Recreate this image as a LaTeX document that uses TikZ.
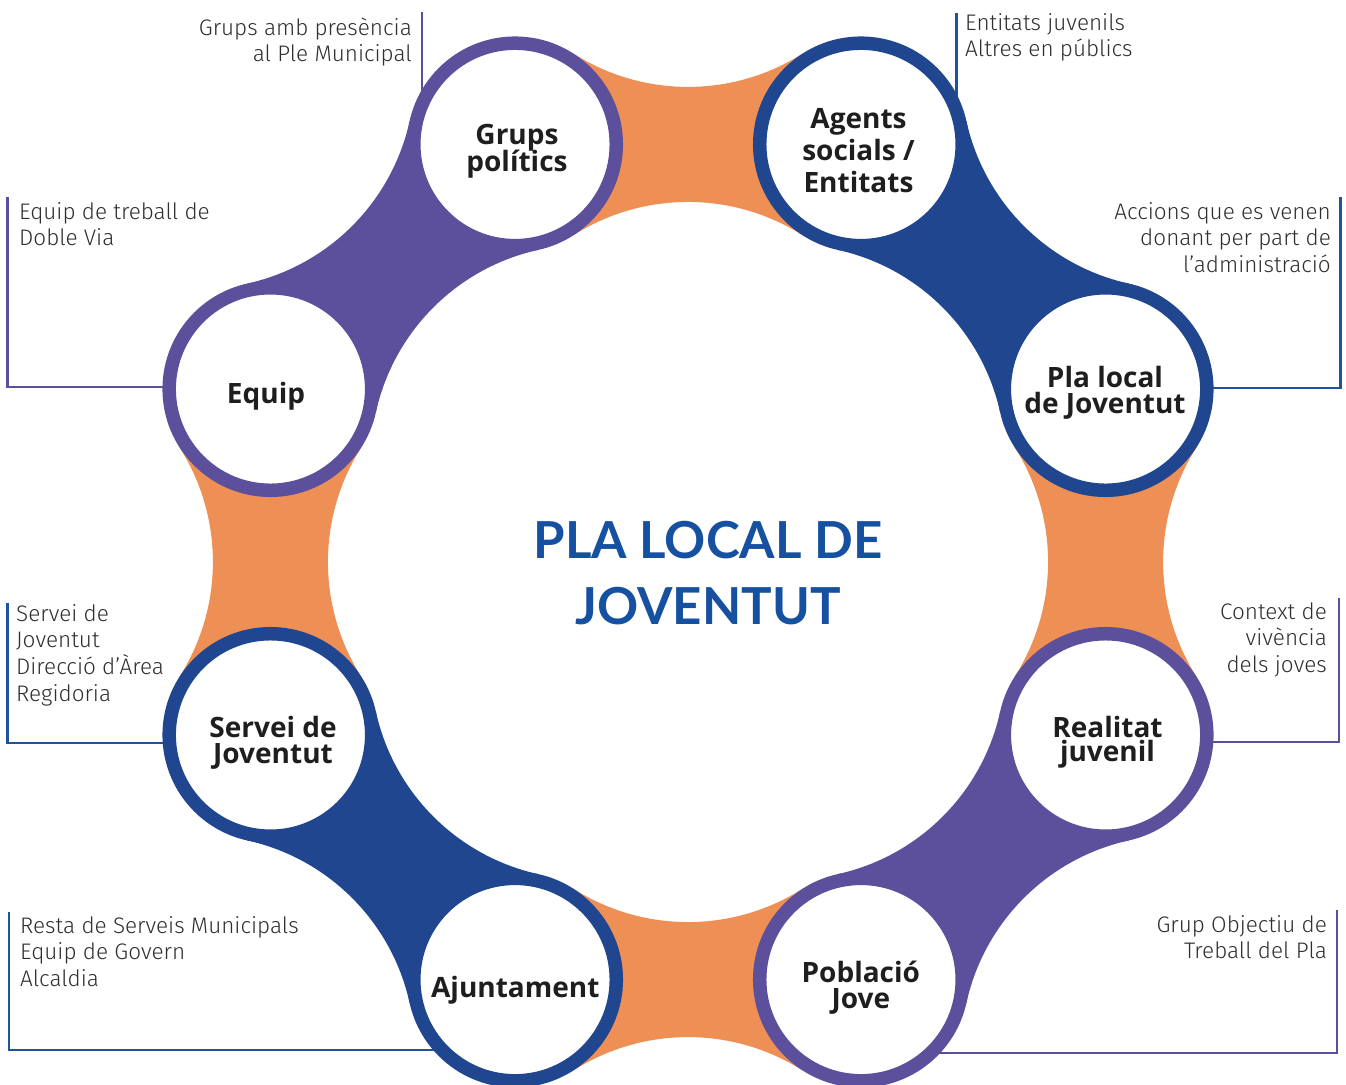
\documentclass[tikz,border=0pt]{standalone}
\usepackage{fontspec}
\usetikzlibrary{calc}
\IfFontExistsTF{Fira Sans Light}{\newfontfamily\bodyf{Fira Sans Light}}{\newfontfamily\bodyf{Fira Sans}}
\newfontfamily\labf{Open Sans}
\newfontfamily\titf{Lato}
\definecolor{orng}{HTML}{EE8F56}
\definecolor{purp}{HTML}{5C4F9C}
\definecolor{blu}{HTML}{20468F}
\definecolor{lblu}{HTML}{1F53A0}
\definecolor{titb}{HTML}{1650A0}
\definecolor{txt}{HTML}{2E2E2E}
\definecolor{labc}{HTML}{1E1E1E}
\newcommand\labfont{\labf\bfseries\fontsize{28}{26}\selectfont\lineskiplimit=-100pt}
\newcommand\bodyfont{\bodyf\fontsize{22.5}{26.7}\selectfont\lineskiplimit=-100pt}
\newcommand\titfont{\titf\bfseries\fontsize{51}{66}\selectfont\lineskiplimit=-100pt}
\newcommand\fstr[1]{\rule{0pt}{#1}}
\tikzset{
  ring/.style={circle, draw=#1, line width=13.5pt, fill=white, minimum size=202.5pt, inner sep=0pt},
  lab/.style={font=\labfont, text=labc, align=center, inner sep=0pt, anchor=north},
  body/.style={font=\bodyfont, text=txt, inner sep=0pt},
  lead/.style={line width=2.2pt, draw=#1},
  titl/.style={font=\titfont, text=titb, align=center, inner sep=0pt, anchor=north}
}
\begin{document}
\begin{tikzpicture}[x=1pt,y=-1pt]
\useasboundingbox (0,0) rectangle (1346,1084);
\clip (0,0) rectangle (1346,1084);
\coordinate (O) at (688,562);
% necks
\begin{scope}[shift={(O)}]
\foreach \a/\c in {0/orng,45/purp,90/orng,135/blu,180/orng,225/purp,270/orng,315/blu}{
  \fill[\c] (\a-22.5:452) -- ++(\a+32.54:108)
     arc[start angle=\a+212.54, end angle=\a+147.46, radius=213.6]
     -- (\a+22.5:452) -- ++(\a+212.54:108)
     arc[start angle=\a+32.54, end angle=\a-32.54, radius=213.6] -- cycle;
}
\end{scope}
% node centres
\coordinate (cPla) at ($(O)+(-22.5:452)$);
\coordinate (cReal) at ($(O)+(22.5:452)$);
\coordinate (cPob) at ($(O)+(67.5:452)$);
\coordinate (cAj) at ($(O)+(112.5:452)$);
\coordinate (cServ) at ($(O)+(157.5:452)$);
\coordinate (cEq) at ($(O)+(202.5:452)$);
\coordinate (cGr) at ($(O)+(247.5:452)$);
\coordinate (cAg) at ($(O)+(292.5:452)$);
% leader lines
\coordinate (k1a) at (421.7,12);  \coordinate (k1b) at (421.7,112);
\coordinate (k2a) at (956.5,13);  \coordinate (k2b) at (956.5,112);
\coordinate (k3a) at (7.5,197);   \coordinate (k3b) at (200,387);
\coordinate (k4a) at (1340.5,197);\coordinate (k4b) at (1150,388);
\coordinate (k5a) at (7.5,603);   \coordinate (k5b) at (200,743);
\coordinate (k6a) at (1339,598);  \coordinate (k6b) at (1150,742);
\coordinate (k7a) at (9,912);     \coordinate (k7b) at (470,1050);
\coordinate (k8a) at (1337,910);  \coordinate (k8b) at (900,1053);
\draw[lead=purp] (k1a) -- (k1b);
\draw[lead=lblu] (k2a) -- (k2b);
\draw[lead=purp] (k3a) |- (k3b);
\draw[lead=lblu] (k4a) |- (k4b);
\draw[lead=lblu] (k5a) |- (k5b);
\draw[lead=purp] (k6a) |- (k6b);
\draw[lead=lblu] (k7a) |- (k7b);
\draw[lead=purp] (k8a) |- (k8b);
% ring nodes
\node[ring=blu]  (nPla)  at (cPla) {};
\node[ring=purp] (nReal) at (cReal) {};
\node[ring=purp] (nPob)  at (cPob) {};
\node[ring=blu]  (nAj)   at (cAj) {};
\node[ring=blu]  (nServ) at (cServ) {};
\node[ring=purp] (nEq)   at (cEq) {};
\node[ring=purp] (nGr)   at (cGr) {};
\node[ring=blu]  (nAg)   at (cAg) {};
% labels
\node[lab] (lGr)   at (517,114)    {\fstr{30pt}Grups\\[1pt]polítics};
\node[lab] (lAg)   at (858.5,98)   {\fstr{30pt}Agents\\[6pt]socials /\\[6pt]Entitats};
\node[lab] (lPla)  at (1105,357)   {\fstr{30pt}Pla local\\de Joventut};
\node[lab] (lReal) at (1107.5,707) {\fstr{30pt}Realitat\\[-2pt]juvenil};
\node[lab] (lPob)  at (860.8,952)  {\fstr{30pt}Població\\Jove};
\node[lab] (lAj)   at (515.3,967)  {\fstr{30pt}Ajuntament};
\node[lab] (lServ) at (273,707)    {\fstr{30pt}Servei de\\Joventut};
\node[lab] (lEq)   at (266,373)    {\fstr{30pt}Equip};
% side texts
\node[body, anchor=north east, align=right] (tGr) at (412,11) {\fstr{24pt}Grups amb presència\\al Ple Municipal};
\node[body, anchor=north west, align=left] (tAg) at (965,6) {\fstr{24pt}Entitats juvenils\\Altres en públics};
\node[body, anchor=north west, align=left] (tEq) at (19,195) {\fstr{24pt}Equip de treball de\\Doble Via};
\node[body, anchor=north east, align=right] (tPla) at (1331,195) {\fstr{24pt}Accions que es venen\\donant per part de\\l’administració};
\node[body, anchor=north west, align=left] (tServ) at (16,597) {\fstr{24pt}Servei de\\Joventut\\Direcció d’Àrea\\Regidoria};
\node[body, anchor=north east, align=right] (tReal) at (1327,595) {\fstr{24pt}Context de\\vivència\\dels joves};
\node[body, anchor=north west, align=left] (tAj) at (20,909) {\fstr{24pt}Resta de Serveis Municipals\\Equip de Govern\\Alcaldia};
\node[body, anchor=north east, align=right] (tPob) at (1327,908) {\fstr{24pt}Grup Objectiu de\\Treball del Pla};
% title
\node[titl] (title) at (708,507) {\fstr{51pt}PLA LOCAL DE\\JOVENTUT};
\end{tikzpicture}
\end{document}
